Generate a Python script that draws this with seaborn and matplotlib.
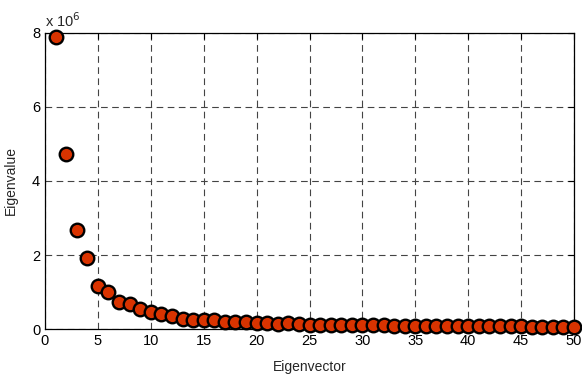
import numpy as np
import pandas as pd
import matplotlib
matplotlib.use('Agg')
import matplotlib.pyplot as plt
import seaborn as sns
from matplotlib.ticker import FuncFormatter

# eigenvalues (units: 1e6)
eigenvector = list(range(1, 51))
eigenvalue_m = [7.89, 4.73, 2.68, 1.93, 1.16, 0.99, 0.74, 0.67, 0.53, 0.45,
                0.40, 0.35, 0.28, 0.25, 0.24, 0.23, 0.20, 0.20, 0.19, 0.17,
                0.16, 0.14, 0.15, 0.14, 0.12, 0.12, 0.11, 0.11, 0.10, 0.10,
                0.10, 0.10, 0.08, 0.08, 0.08, 0.08, 0.08, 0.07, 0.07, 0.07,
                0.07, 0.07, 0.07, 0.07, 0.07, 0.06, 0.06, 0.06, 0.06, 0.06]

df = pd.DataFrame({'Eigenvector': eigenvector,
                   'Eigenvalue': np.array(eigenvalue_m) * 1e6})

sns.set_style('white')
plt.rcParams['font.family'] = ['Liberation Sans', 'DejaVu Sans']

fig = plt.figure(figsize=(5.82, 3.77), dpi=100)
ax = fig.add_axes([0.0773, 0.1273, 0.909, 0.7852])

sns.scatterplot(data=df, x='Eigenvector', y='Eigenvalue', ax=ax,
                s=95, color='#D93300', edgecolor='black', linewidth=1.7,
                zorder=3, clip_on=False)

ax.set_xlim(0, 50)
ax.set_ylim(0, 8e6)
ax.set_xticks(range(0, 51, 5))
ax.set_yticks(np.arange(0, 8.1e6, 2e6))
ax.yaxis.set_major_formatter(FuncFormatter(lambda v, p: f'{v/1e6:g}'))
ax.tick_params(direction='in', length=4, width=0.8, labelsize=10.5,
               top=True, right=True, colors='black')
ax.grid(True, linestyle=(0, (6, 4)), color='#444444', linewidth=0.8)
for sp in ax.spines.values():
    sp.set_color('black')
    sp.set_linewidth(0.9)

ax.set_xlabel('Eigenvector', fontsize=10, labelpad=9)
ax.set_ylabel('Eigenvalue', fontsize=10, labelpad=10)
ax.text(0.0, 1.01, 'x 10$^6$', transform=ax.transAxes, fontsize=10.5,
        ha='left', va='bottom')

fig.savefig('out.png', dpi=100)
